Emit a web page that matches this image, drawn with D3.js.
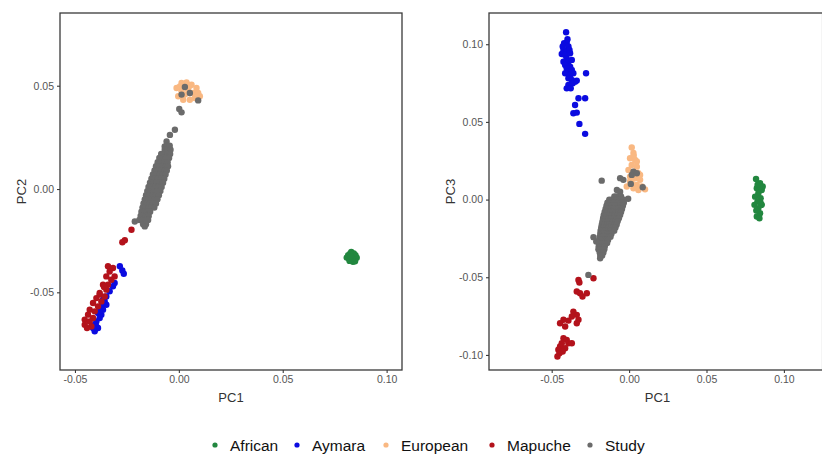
<!DOCTYPE html>
<html>
<head>
<meta charset="utf-8">
<script src="https://cdn.jsdelivr.net/npm/d3@7"></script>
<style>
  body { margin: 0; background: #fff; }
  #chart { width: 822px; height: 455px; }
  text { font-family: Arial, "Liberation Sans", sans-serif; }
</style>
</head>
<body>
<div id="chart"></div>
<script>

// CATEGORIES + COLORS
const groups = ["African", "Aymara", "European", "Mapuche", "Study"];
const groupColors = ["#22873f", "#0b0be0", "#f9b882", "#b3121b", "#6b6b6b"];

// TICKS
const pc1Ticks = [-0.05, 0, 0.05, 0.10];
const pc1TickLabels = ["-0.05", "0.00", "0.05", "0.10"];
const pc2Ticks = [-0.05, 0, 0.05];
const pc2TickLabels = ["-0.05", "0.00", "0.05"];
const pc3Ticks = [-0.10, -0.05, 0, 0.05, 0.10];
const pc3TickLabels = ["-0.10", "-0.05", "0.00", "0.05", "0.10"];

// PC1 vs PC2 (left panel), [pc1, pc2]
const africanPC2 = [[0.0833,-0.0329],[0.0815,-0.0320],[0.0850,-0.0320],[0.0820,-0.0340],[0.0845,-0.0342],
  [0.0830,-0.0305],[0.0838,-0.0352],[0.0808,-0.0332],[0.0856,-0.0333],[0.0825,-0.0312],[0.0842,-0.0312],
  [0.0822,-0.0348],[0.0848,-0.0350],[0.0836,-0.0338],[0.0828,-0.0325]];
const aymaraPC2 = [[-0.0284,-0.0374],[-0.0272,-0.0394],[-0.0265,-0.0410],[-0.0317,-0.0471],[-0.0333,-0.0495],
  [-0.0349,-0.0520],[-0.0357,-0.0544],[-0.0373,-0.0568],[-0.0365,-0.0584],[-0.0389,-0.0600],[-0.0381,-0.0624],
  [-0.0397,-0.0641],[-0.0405,-0.0657],[-0.0389,-0.0673],[-0.0405,-0.0689],[-0.0373,-0.0608],[-0.0349,-0.0560],
  [-0.0381,-0.0592],[-0.0397,-0.0665],[-0.0413,-0.0673],[-0.0309,-0.0455],[-0.0365,-0.0536]];
const europeanPC2 = [[-0.0011,0.0489],[0.0013,0.0513],[0.0037,0.0516],[0.0061,0.0505],[0.0085,0.0489],
  [0.0101,0.0449],[0.0077,0.0440],[0.0053,0.0432],[0.0021,0.0432],[-0.0003,0.0449],[0.0013,0.0473],
  [0.0045,0.0481],[0.0069,0.0465],[0.0029,0.0457],[0.0093,0.0465],[0.0005,0.0497],[0.0053,0.0500]];
const mapuchePC2 = [[-0.0341,-0.0374],[-0.0317,-0.0382],[-0.0333,-0.0399],[-0.0349,-0.0423],[-0.0309,-0.0423],
  [-0.0325,-0.0439],[-0.0365,-0.0463],[-0.0341,-0.0463],[-0.0349,-0.0487],[-0.0381,-0.0511],[-0.0357,-0.0520],
  [-0.0397,-0.0528],[-0.0373,-0.0544],[-0.0413,-0.0552],[-0.0389,-0.0568],[-0.0429,-0.0584],[-0.0405,-0.0592],
  [-0.0437,-0.0608],[-0.0413,-0.0624],[-0.0453,-0.0632],[-0.0429,-0.0641],[-0.0453,-0.0657],[-0.0421,-0.0665],
  [-0.0442,-0.0673],[-0.0381,-0.0503],[-0.0360,-0.0474],[-0.0228,-0.0197],[-0.0272,-0.0258],[-0.0260,-0.0248]];
const studyPC2 = [[0.0029,0.0494],[0.0013,0.0457],[0.0053,0.0465],[0.0093,0.0429],
  [0.0002,0.0387],[0.0013,0.0371],[-0.0019,0.0287],[-0.0043,0.0262],[-0.0059,0.0230],[-0.0068,0.0206],
  [-0.0058,0.021],[-0.0044,0.021],
  [-0.0068,0.019],[-0.0054,0.019],[-0.0040,0.019],
  [-0.0085,0.017],[-0.0070,0.017],[-0.0056,0.017],[-0.0042,0.017],
  [-0.0094,0.015],[-0.0078,0.015],[-0.0062,0.015],[-0.0047,0.015],
  [-0.0102,0.013],[-0.0086,0.013],[-0.0070,0.013],[-0.0054,0.013],
  [-0.0110,0.011],[-0.0094,0.011],[-0.0078,0.011],[-0.0062,0.011],[-0.0052,0.011],
  [-0.0117,0.009],[-0.0101,0.009],[-0.0085,0.009],[-0.0069,0.009],[-0.0058,0.009],
  [-0.0125,0.007],[-0.0109,0.007],[-0.0093,0.007],[-0.0077,0.007],[-0.0064,0.007],
  [-0.0132,0.005],[-0.0116,0.005],[-0.0100,0.005],[-0.0084,0.005],[-0.0070,0.005],
  [-0.0139,0.003],[-0.0123,0.003],[-0.0107,0.003],[-0.0091,0.003],[-0.0076,0.003],
  [-0.0146,0.001],[-0.0130,0.001],[-0.0114,0.001],[-0.0098,0.001],[-0.0083,0.001],
  [-0.0152,-0.001],[-0.0136,-0.001],[-0.0120,-0.001],[-0.0104,-0.001],[-0.0089,-0.001],
  [-0.0158,-0.003],[-0.0142,-0.003],[-0.0126,-0.003],[-0.0110,-0.003],[-0.0096,-0.003],
  [-0.0164,-0.005],[-0.0148,-0.005],[-0.0133,-0.005],[-0.0118,-0.005],[-0.0103,-0.005],
  [-0.0170,-0.007],[-0.0154,-0.007],[-0.0139,-0.007],[-0.0124,-0.007],[-0.0110,-0.007],
  [-0.0175,-0.009],[-0.0160,-0.009],[-0.0146,-0.009],[-0.0132,-0.009],[-0.0118,-0.009],
  [-0.0180,-0.011],[-0.0166,-0.011],[-0.0152,-0.011],[-0.0138,-0.011],
  [-0.0184,-0.013],[-0.0171,-0.013],[-0.0158,-0.013],[-0.0145,-0.013],
  [-0.0190,-0.015],[-0.0176,-0.015],[-0.0160,-0.015],[-0.0148,-0.015],
  [-0.0172,-0.017],[-0.0158,-0.017],
  [-0.0212,-0.0157],[-0.0164,-0.0181]];

// PC1 vs PC3 (right panel), [pc1, pc3]
const africanPC3 = [[0.0820,0.0133],[0.0846,0.0105],[0.0825,0.0073],[0.0857,0.0062],[0.0835,0.0041],
  [0.0814,0.0019],[0.0850,0.0009],[0.0829,-0.0013],[0.0857,-0.0034],[0.0810,-0.0034],[0.0835,-0.0056],
  [0.0846,-0.0088],[0.0825,-0.0109],[0.0842,-0.0120],[0.0863,0.0084],[0.0842,0.0084],[0.0822,-0.0070],
  [0.0850,-0.0020],[0.0830,0.0095]];
const aymaraPC3 = [[-0.0407,0.1077],[-0.0420,0.1006],[-0.0403,0.1010],[-0.0392,0.0985],[-0.0424,0.0963],
  [-0.0407,0.0952],[-0.0385,0.0963],[-0.0435,0.0937],[-0.0413,0.0931],[-0.0381,0.0942],[-0.0403,0.0909],
  [-0.0424,0.0888],[-0.0392,0.0888],[-0.0370,0.0899],[-0.0413,0.0867],[-0.0381,0.0856],[-0.0403,0.0845],
  [-0.0392,0.0824],[-0.0370,0.0834],[-0.0413,0.0813],[-0.0381,0.0802],[-0.0360,0.0813],[-0.0392,0.0781],
  [-0.0370,0.0770],[-0.0349,0.0759],[-0.0392,0.0738],[-0.0364,0.0749],[-0.0403,0.0716],[-0.0377,0.0716],
  [-0.0338,0.0766],[-0.0278,0.0813],[-0.0327,0.0652],[-0.0284,0.0652],[-0.0349,0.0609],[-0.0360,0.0556],
  [-0.0338,0.0560],[-0.0321,0.0487],[-0.0284,0.0423],[-0.0429,0.0985],[-0.0398,0.1032]];
const europeanPC3 = [[0.0017,0.0335],[0.0028,0.0300],[0.0006,0.0266],[0.0039,0.0255],[0.0017,0.0223],
  [0.0050,0.0212],[-0.0004,0.0191],[0.0028,0.0180],[0.0060,0.0169],[0.0006,0.0148],[0.0039,0.0137],
  [0.0071,0.0127],[0.0017,0.0105],[0.0050,0.0094],[0.0082,0.0084],[0.0028,0.0073],[0.0060,0.0062],
  [0.0103,0.0066],[-0.0015,0.0084],[0.0006,0.0116],[0.0050,0.0245],[0.0071,0.0159],[0.0030,0.0282]];
const mapuchePC3 = [[-0.0230,-0.0506],[-0.0327,-0.0517],[-0.0321,-0.0534],[-0.0338,-0.0592],[-0.0317,-0.0603],
  [-0.0301,-0.0624],[-0.0273,-0.0603],[-0.0360,-0.0721],[-0.0338,-0.0742],[-0.0370,-0.0753],[-0.0327,-0.0774],
  [-0.0392,-0.0779],[-0.0424,-0.0774],[-0.0446,-0.0796],[-0.0413,-0.0817],[-0.0338,-0.0796],[-0.0424,-0.0892],
  [-0.0403,-0.0903],[-0.0435,-0.0925],[-0.0392,-0.0925],[-0.0370,-0.0925],[-0.0446,-0.0946],[-0.0413,-0.0957],
  [-0.0457,-0.0967],[-0.0429,-0.0978],[-0.0450,-0.0989],[-0.0463,-0.1010]];
const studyPC3 = [[-0.0177,0.0122],[-0.0058,0.0138],[-0.0037,0.0127],[-0.0079,0.0062],[-0.0058,0.0050],
  [-0.0006,0.0005],[0.0028,0.0180],[0.0017,0.0159],[0.0050,0.0169],[0.0011,0.0101],[0.0088,0.0079],
  [-0.0095,0.002],[-0.0080,0.002],[-0.0065,0.002],[-0.0052,0.002],
  [-0.0128,0.000],[-0.0112,0.000],[-0.0096,0.000],[-0.0080,0.000],[-0.0064,0.000],[-0.0048,0.000],[-0.0035,0.000],
  [-0.0140,-0.002],[-0.0122,-0.002],[-0.0104,-0.002],[-0.0086,-0.002],[-0.0068,-0.002],[-0.0050,-0.002],[-0.0034,-0.002],
  [-0.0146,-0.004],[-0.0128,-0.004],[-0.0110,-0.004],[-0.0092,-0.004],[-0.0074,-0.004],[-0.0056,-0.004],[-0.0040,-0.004],
  [-0.0152,-0.006],[-0.0134,-0.006],[-0.0116,-0.006],[-0.0098,-0.006],[-0.0080,-0.006],[-0.0062,-0.006],[-0.0046,-0.006],
  [-0.0158,-0.008],[-0.0140,-0.008],[-0.0122,-0.008],[-0.0104,-0.008],[-0.0086,-0.008],[-0.0068,-0.008],[-0.0052,-0.008],
  [-0.0164,-0.010],[-0.0146,-0.010],[-0.0128,-0.010],[-0.0110,-0.010],[-0.0092,-0.010],[-0.0074,-0.010],[-0.0058,-0.010],
  [-0.0168,-0.012],[-0.0150,-0.012],[-0.0132,-0.012],[-0.0114,-0.012],[-0.0096,-0.012],[-0.0080,-0.012],[-0.0066,-0.012],
  [-0.0172,-0.014],[-0.0155,-0.014],[-0.0138,-0.014],[-0.0121,-0.014],[-0.0104,-0.014],[-0.0088,-0.014],[-0.0074,-0.014],
  [-0.0176,-0.016],[-0.0159,-0.016],[-0.0142,-0.016],[-0.0126,-0.016],[-0.0110,-0.016],[-0.0094,-0.016],[-0.0080,-0.016],
  [-0.0180,-0.018],[-0.0164,-0.018],[-0.0148,-0.018],[-0.0132,-0.018],[-0.0116,-0.018],[-0.0100,-0.018],[-0.0088,-0.018],
  [-0.0184,-0.020],[-0.0168,-0.020],[-0.0152,-0.020],[-0.0137,-0.020],[-0.0122,-0.020],[-0.0108,-0.020],[-0.0096,-0.020],
  [-0.0186,-0.022],[-0.0171,-0.022],[-0.0156,-0.022],[-0.0142,-0.022],[-0.0128,-0.022],[-0.0114,-0.022],
  [-0.0190,-0.024],[-0.0175,-0.024],[-0.0160,-0.024],[-0.0146,-0.024],[-0.0132,-0.024],[-0.0120,-0.024],
  [-0.0192,-0.026],[-0.0178,-0.026],[-0.0164,-0.026],[-0.0150,-0.026],[-0.0136,-0.026],
  [-0.0194,-0.028],[-0.0181,-0.028],[-0.0168,-0.028],[-0.0155,-0.028],[-0.0142,-0.028],
  [-0.0196,-0.030],[-0.0183,-0.030],[-0.0170,-0.030],[-0.0157,-0.030],
  [-0.0198,-0.032],[-0.0185,-0.032],[-0.0172,-0.032],[-0.0160,-0.032],
  [-0.0190,-0.034],[-0.0178,-0.034],[-0.0166,-0.034],
  [-0.0186,-0.036],[-0.0174,-0.036],
  [-0.0230,-0.0242],[-0.0212,-0.0270],[-0.0187,-0.0378],[-0.0263,-0.0485]];

// SVG CANVAS

const width = 822;
const height = 455;

const svg = d3.select("#chart")
    .append("svg")
    .attr("width", width)
    .attr("height", height);

const colorScale = d3.scaleOrdinal()
    .domain(groups)
    .range(groupColors);

// PANEL DRAWING

function drawPanel(p) {

    const xScale = d3.scaleLinear()
        .domain(p.xDomain)
        .range([p.left, p.right]);

    const yScale = d3.scaleLinear()
        .domain(p.yDomain)
        .range([p.bottom, p.top]);

    const g = svg.append("g");

    // points, drawn in legend order so Study ends on top
    p.series.forEach(function(s, i) {
        g.append("g").selectAll("circle")
            .data(s)
            .enter()
            .append("circle")
                .attr("cx", function(d) { return xScale(d[0]); })
                .attr("cy", function(d) { return yScale(d[1]); })
                .attr("r", 3.2)
                .attr("fill", colorScale(groups[i]));
    });

    // border
    g.append("rect")
        .attr("x", p.left)
        .attr("y", p.top)
        .attr("width", p.right - p.left)
        .attr("height", p.bottom - p.top)
        .attr("fill", "none")
        .attr("stroke", "#3a3a3a")
        .attr("stroke-width", 1.3);

    const xAxis = g.append("g")
        .attr("transform", `translate(0,${p.bottom})`)
        .call(d3.axisBottom(xScale).tickValues(p.xTicks).tickSize(3).tickPadding(3)
            .tickFormat(function(d, i) { return p.xTickLabels[i]; }));

    const yAxis = g.append("g")
        .attr("transform", `translate(${p.left},0)`)
        .call(d3.axisLeft(yScale).tickValues(p.yTicks).tickSize(3).tickPadding(3)
            .tickFormat(function(d, i) { return p.yTickLabels[i]; }));

    [xAxis, yAxis].forEach(function(a) {
        a.select(".domain").remove();
        a.selectAll(".tick line").attr("stroke", "#3a3a3a").attr("stroke-width", 1.1);
        a.selectAll(".tick text")
            .attr("fill", "#555")
            .attr("font-size", "10.5px")
            .attr("font-family", "Arial, 'Liberation Sans', sans-serif");
    });

    // axis labels
    g.append("text")
        .attr("x", (p.left + Math.min(p.right, width)) / 2 + (p.right > width ? 2 : 0))
        .attr("y", 402)
        .attr("text-anchor", "middle")
        .attr("font-size", "13px")
        .attr("fill", "#333")
        .text(p.xLabel);

    g.append("text")
        .attr("transform", "rotate(-90)")
        .attr("x", -(p.top + p.bottom) / 2)
        .attr("y", p.yLabelX)
        .attr("text-anchor", "middle")
        .attr("font-size", "13px")
        .attr("fill", "#333")
        .text(p.yLabel);
}

drawPanel({
    left: 60, right: 402, top: 13, bottom: 370,
    xDomain: [-0.0572, 0.1074], yDomain: [-0.0876, 0.0852],
    xTicks: pc1Ticks, xTickLabels: pc1TickLabels,
    yTicks: pc2Ticks, yTickLabels: pc2TickLabels,
    xLabel: "PC1", yLabel: "PC2", yLabelX: 26,
    series: [africanPC2, aymaraPC2, europeanPC2, mapuchePC2, studyPC2]
});

drawPanel({
    left: 489, right: 822.6, top: 13, bottom: 370,
    xDomain: [-0.0905, 0.125], yDomain: [-0.1097, 0.1201],
    xTicks: pc1Ticks, xTickLabels: pc1TickLabels,
    yTicks: pc3Ticks, yTickLabels: pc3TickLabels,
    xLabel: "PC1", yLabel: "PC3", yLabelX: 455,
    series: [africanPC3, aymaraPC3, europeanPC3, mapuchePC3, studyPC3]
});

// LEGEND

const legendX = [215, 297, 386, 492, 590];

const legend = svg.append("g")
    .attr("transform", "translate(0,445)");

legend.selectAll("circle")
    .data(groups)
    .enter()
    .append("circle")
        .attr("cx", function(d, i) { return legendX[i]; })
        .attr("cy", 0)
        .attr("r", 2.6)
        .attr("fill", function(d) { return colorScale(d); });

legend.selectAll("text")
    .data(groups)
    .enter()
    .append("text")
        .attr("x", function(d, i) { return legendX[i] + 15; })
        .attr("y", 5.5)
        .attr("font-size", "15.5px")
        .attr("fill", "#111")
        .text(function(d) { return d; });

</script>
</body>
</html>
